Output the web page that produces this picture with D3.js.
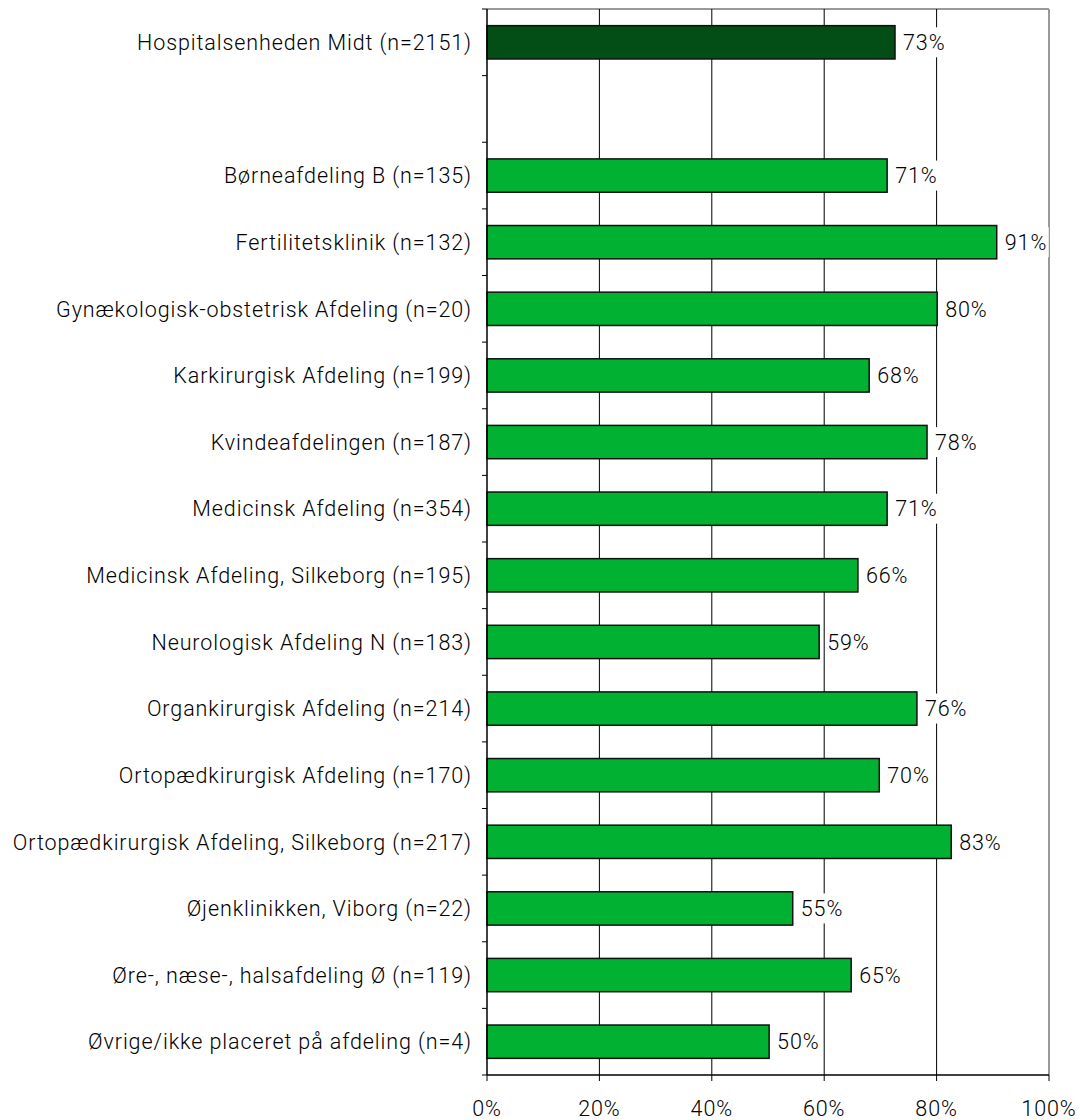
<!DOCTYPE html>
<html><head><meta charset="utf-8">
<script src="https://cdn.jsdelivr.net/npm/d3@7"></script>
<style>body{margin:0;background:#fff}</style>
</head><body>
<svg id="c" width="1080" height="1120"></svg>
<script>
const categories = [
  "Hospitalsenheden Midt (n=2151)",
  "",
  "Børneafdeling B (n=135)",
  "Fertilitetsklinik (n=132)",
  "Gynækologisk-obstetrisk Afdeling (n=20)",
  "Karkirurgisk Afdeling (n=199)",
  "Kvindeafdelingen (n=187)",
  "Medicinsk Afdeling (n=354)",
  "Medicinsk Afdeling, Silkeborg (n=195)",
  "Neurologisk Afdeling N (n=183)",
  "Organkirurgisk Afdeling (n=214)",
  "Ortopædkirurgisk Afdeling (n=170)",
  "Ortopædkirurgisk Afdeling, Silkeborg (n=217)",
  "Øjenklinikken, Viborg (n=22)",
  "Øre-, næse-, halsafdeling Ø (n=119)",
  "Øvrige/ikke placeret på afdeling (n=4)"
];
const values = [72.6, null, 71.2, 90.7, 80.1, 68.0, 78.3, 71.2, 66.0, 59.1, 76.5, 69.8, 82.6, 54.4, 64.8, 50.2];
const valueLabels = ["73%", "", "71%", "91%", "80%", "68%", "78%", "71%", "66%", "59%", "76%", "70%", "83%", "55%", "65%", "50%"];
const xTicks = [0, 20, 40, 60, 80, 100];
const xTickLabels = ["0%", "20%", "40%", "60%", "80%", "100%"];

const svg = d3.select("#c");
const L = 487, R = 1049, T = 9, B = 1075;
const font = "Roboto, 'Liberation Sans', sans-serif";
const fs = 21.5, ls = "0.9px", fw = 300;
const x = d3.scaleLinear().domain([0, 100]).range([L, R]);
const y = d3.scaleBand().domain(d3.range(categories.length)).range([T, B]).paddingInner(0.5).paddingOuter(0.25);
const yb = d3.scaleBand().domain(d3.range(categories.length)).range([T, B]);

// plot border (top, right) gray
svg.append("line").attr("x1", L).attr("x2", R).attr("y1", T).attr("y2", T).attr("stroke", "#999").attr("stroke-width", 2);
svg.append("line").attr("x1", R).attr("x2", R).attr("y1", T).attr("y2", B).attr("stroke", "#999").attr("stroke-width", 2);

// gridlines
svg.append("g").selectAll("line").data(xTicks.filter(t => t > 0 && t < 100)).join("line")
  .attr("x1", d => x(d)).attr("x2", d => x(d)).attr("y1", T).attr("y2", B)
  .attr("stroke", "#000").attr("stroke-width", 1);

// bars
const idx = d3.range(categories.length).filter(i => values[i] != null);
svg.append("g").selectAll("rect").data(idx).join("rect")
  .attr("x", L).attr("y", i => y(i))
  .attr("width", i => x(values[i]) - L).attr("height", y.bandwidth())
  .attr("fill", i => i === 0 ? "#024e16" : "#00b132")
  .attr("stroke", "#111").attr("stroke-width", 1.5);

// value labels with white background
const vl = svg.append("g").selectAll("g").data(idx).join("g")
  .attr("transform", i => `translate(${x(values[i]) + 8},${y(i) + y.bandwidth() / 2})`);
vl.append("rect").attr("x", -2).attr("y", -15).attr("width", 46).attr("height", 30).attr("fill", "#fff");
vl.append("text").text(i => valueLabels[i])
  .attr("dy", "0.36em").attr("font-family", font).attr("font-size", fs).attr("font-weight", fw)
  .attr("letter-spacing", ls).attr("fill", "#000");

// left axis
const yAxisG = svg.append("g");
yAxisG.append("line").attr("x1", L).attr("x2", L).attr("y1", T).attr("y2", B).attr("stroke", "#000").attr("stroke-width", 1.5);
const bounds = d3.range(categories.length + 1).map(i => i < categories.length ? yb(i) : B);
yAxisG.selectAll("line.t").data(bounds).join("line").attr("class", "t")
  .attr("x1", L - 5).attr("x2", L).attr("y1", d => d).attr("y2", d => d).attr("stroke", "#000");
yAxisG.selectAll("text").data(d3.range(categories.length)).join("text")
  .attr("x", L - 15).attr("y", i => yb(i) + yb.bandwidth() / 2).attr("dy", "0.36em")
  .attr("text-anchor", "end").attr("font-family", font).attr("font-size", fs).attr("font-weight", fw)
  .attr("letter-spacing", ls).attr("fill", "#000")
  .text(i => categories[i]);

// bottom axis
const xAxisG = svg.append("g");
xAxisG.append("line").attr("x1", L).attr("x2", R).attr("y1", B).attr("y2", B).attr("stroke", "#000").attr("stroke-width", 1.5);
xAxisG.selectAll("line.t").data(xTicks).join("line").attr("class", "t")
  .attr("x1", d => x(d)).attr("x2", d => x(d)).attr("y1", B).attr("y2", B + 6).attr("stroke", "#000");
xAxisG.selectAll("text").data(xTicks).join("text")
  .attr("x", d => x(d)).attr("y", 1108).attr("dy", "0.36em").attr("text-anchor", "middle")
  .attr("font-family", font).attr("font-size", fs).attr("font-weight", fw).attr("letter-spacing", ls).attr("fill", "#000")
  .text((d, i) => xTickLabels[i]);
</script>
</body></html>
